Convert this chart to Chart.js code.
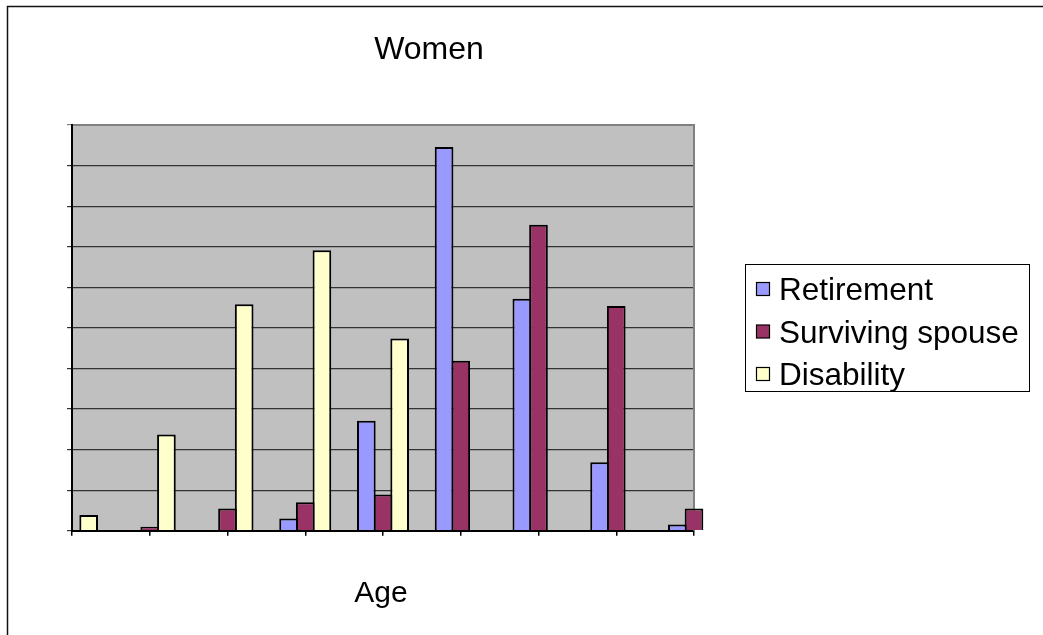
<!DOCTYPE html>
<html>
<head>
<meta charset="utf-8">
<title>Women</title>
<script src="https://cdn.jsdelivr.net/npm/chart.js@4"></script>
<style>
  html, body { margin: 0; padding: 0; background: #ffffff; }
  #wrap { position: relative; width: 1043px; height: 635px; }
</style>
</head>
<body>
<div id="wrap"><canvas id="chart" width="1043" height="635"></canvas></div>
<script>
// Age bands (not labelled on the axis)
const ageBands = ['<25', '25-34', '35-44', '45-54', '55-64', '65-74', '75-84', '85-94', '95+'];

// Share of women receiving each type of pension, per age band
const retirement      = [null, null, null, 3.0, 27.1, 94.6, 57.2, 16.9, 1.5];
const survivingSpouse = [null, 1.0, 5.5, 7.0, 8.9, 41.9, 75.4, 55.4, 5.5];
const disability      = [3.9, 23.7, 55.8, 69.1, 47.4, null, null, null, null];

const seriesNames  = ['Retirement', 'Surviving spouse', 'Disability'];
const seriesColors = ['#9999ff', '#993366', '#ffffcc'];

const yMax = 100;
const yStep = 10;

const chartTitle = 'Women';
const axisTitle = 'Age';
const FONT = '"Liberation Sans", Arial, Helvetica, sans-serif';

// Frame, plot background, titles and the boxed legend on the right
const decorations = {
  id: 'decorations',
  beforeDraw(chart) {
    const { ctx, chartArea: a } = chart;
    ctx.save();
    ctx.fillStyle = '#ffffff';
    ctx.fillRect(0, 0, chart.width, chart.height);
    // outer frame
    ctx.strokeStyle = '#111111';
    ctx.lineWidth = 1.5;
    ctx.strokeRect(7.5, 6.5, 1200, 800);
    // plot background
    ctx.fillStyle = '#c0c0c0';
    ctx.fillRect(a.left, a.top, a.right - a.left, a.bottom - a.top);
    ctx.restore();
  },
  beforeDatasetsDraw(chart) {
    const { ctx, chartArea: a } = chart;
    ctx.save();
    ctx.strokeStyle = '#808080';
    ctx.lineWidth = 2;
    ctx.beginPath();
    ctx.moveTo(a.left + 1, a.top);
    ctx.lineTo(a.right, a.top);
    ctx.lineTo(a.right, a.bottom);
    ctx.stroke();
    ctx.restore();
  },
  afterDraw(chart) {
    const { ctx } = chart;
    ctx.save();
    ctx.fillStyle = '#000000';
    ctx.textBaseline = 'alphabetic';
    ctx.textAlign = 'center';
    ctx.font = '32px ' + FONT;
    ctx.fillText(chartTitle, 429, 59);
    ctx.font = '30px ' + FONT;
    ctx.fillText(axisTitle, 381, 602);

    // legend box
    ctx.strokeStyle = '#000000';
    ctx.lineWidth = 1;
    ctx.strokeRect(745.5, 264.5, 284, 127);
    ctx.textAlign = 'left';
    ctx.font = '31.5px ' + FONT;
    chart.data.datasets.forEach((ds, i) => {
      const base = 300 + i * 42.5;
      ctx.fillStyle = ds.backgroundColor;
      ctx.fillRect(756.5, base - 17.5, 13, 13);
      ctx.strokeStyle = '#000000';
      ctx.lineWidth = 1.2;
      ctx.strokeRect(756.5, base - 17.5, 13, 13);
      ctx.fillStyle = '#000000';
      ctx.fillText(ds.label, 779, base);
    });
    ctx.restore();
  }
};

const seriesData = [retirement, survivingSpouse, disability];

new Chart(document.getElementById('chart'), {
  type: 'bar',
  data: {
    labels: ageBands,
    datasets: seriesNames.map((name, i) => ({
      label: name,
      data: seriesData[i],
      backgroundColor: seriesColors[i],
      borderColor: '#000000',
      borderWidth: 2,
      // neighbouring bars share one border line
      categoryPercentage: 0.643,
      barPercentage: 1.12,
      clip: false
    }))
  },
  options: {
    responsive: false,
    animation: false,
    events: [],
    layout: { padding: { left: 67, top: 125, right: 349, bottom: 99.3 } },
    plugins: {
      legend: { display: false },
      title: { display: false },
      tooltip: { enabled: false }
    },
    scales: {
      x: {
        type: 'category',
        offset: false,
        ticks: { display: false },
        grid: {
          offset: false,
          drawOnChartArea: false,
          drawTicks: true,
          tickLength: 5,
          color: '#000000',
          lineWidth: 1.5
        },
        border: { display: true, color: '#000000', width: 2 },
        afterFit(scale) { scale.height = 5; }
      },
      y: {
        min: 0,
        max: yMax,
        ticks: { display: false, stepSize: yStep },
        grid: {
          drawTicks: true,
          tickLength: 5,
          color: (c) => (c.tick && c.tick.value === yMax) ? '#808080' : '#333333',
          lineWidth: 1.2
        },
        border: { display: true, color: '#000000', width: 2 },
        afterFit(scale) { scale.width = 5; }
      }
    }
  },
  plugins: [decorations]
});
</script>
</body>
</html>
